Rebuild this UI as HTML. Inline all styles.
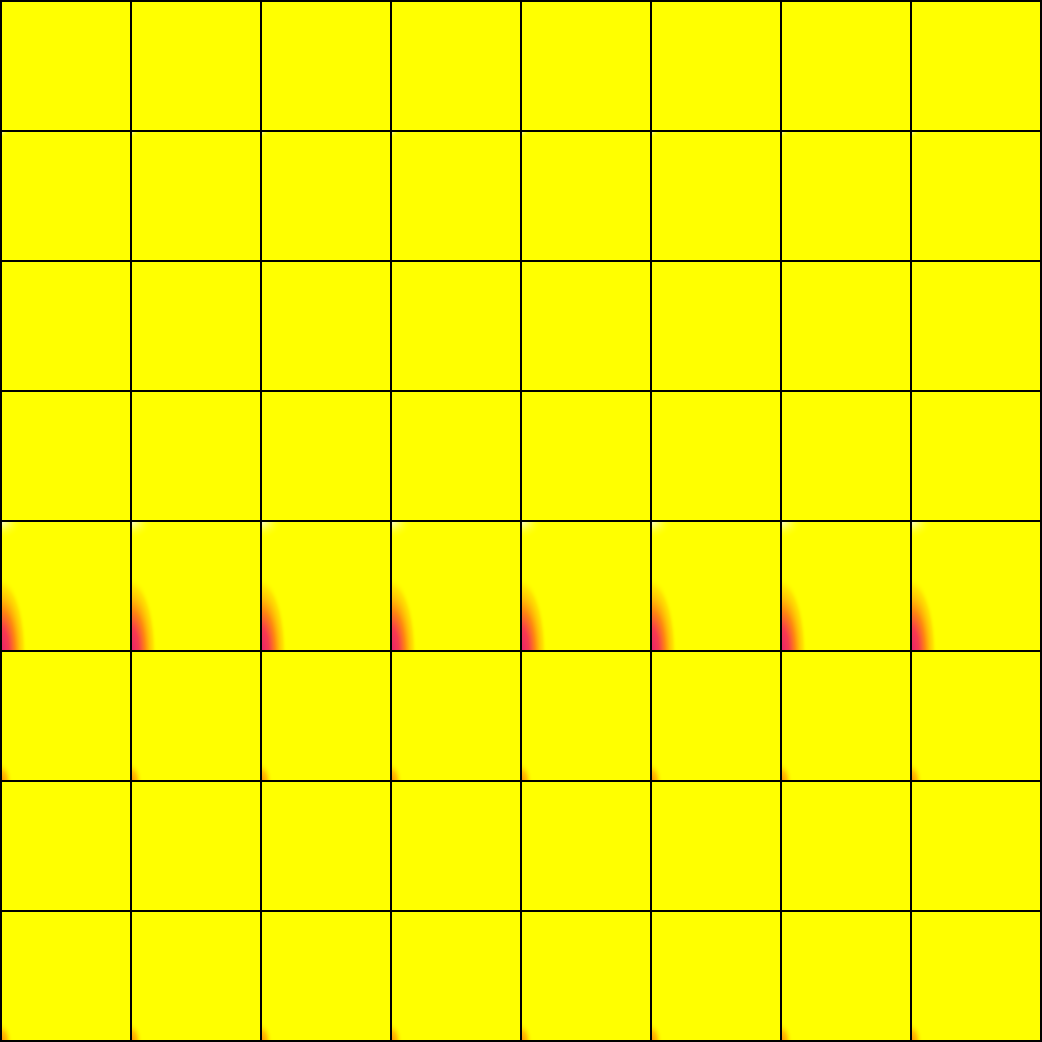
<!DOCTYPE html>
<html><head><meta charset="utf-8"><style>html,body{margin:0;padding:0;background:#ff0}svg{display:block}</style></head>
<body>
<svg id="chart" width="1042" height="1042" viewBox="0 0 1042 1042" xmlns="http://www.w3.org/2000/svg">
<defs>
<radialGradient id="hot" gradientUnits="objectBoundingBox" cx="0" cy="1" fx="0" fy="1" r="1">
<stop offset="0" stop-color="#e8206e"/>
<stop offset="0.3" stop-color="#f83a50"/>
<stop offset="0.55" stop-color="#ff8a10"/>
<stop offset="0.85" stop-color="#ffd000" stop-opacity="0.6"/>
<stop offset="1" stop-color="#ffff00" stop-opacity="0"/>
</radialGradient>
<radialGradient id="warm" gradientUnits="objectBoundingBox" cx="0" cy="1" fx="0" fy="1" r="1">
<stop offset="0" stop-color="#ff8c00"/>
<stop offset="0.5" stop-color="#ffb000" stop-opacity="0.7"/>
<stop offset="1" stop-color="#ffff00" stop-opacity="0"/>
</radialGradient>
<radialGradient id="glow" gradientUnits="objectBoundingBox" cx="0" cy="0" fx="0" fy="0" r="1">
<stop offset="0" stop-color="#ffffe0"/>
<stop offset="1" stop-color="#ffff00" stop-opacity="0"/>
</radialGradient>
</defs>
<rect x="0" y="0" width="1042" height="1042" fill="#ffff00"/>
<g id="tiles"></g>
<g id="grid"></g>
</svg>
<script>
const rowHot = [0, 0, 0, 0, 1, 0.4, 0, 0.4];
const rowGlow = [0, 0.4, 0, 0, 1, 0, 0, 0];
const cols = [0, 1, 2, 3, 4, 5, 6, 7];
const NS = 'http://www.w3.org/2000/svg';
const cell = 130, off = 1;
const X = c => off + c * cell;
const Y = r => off + r * cell;
const tiles = document.getElementById('tiles');
rowHot.forEach((h, r) => {
  cols.forEach(c => {
    const g = document.createElementNS(NS, 'g');
    
    
    if (rowGlow[r] > 0) {
      const w = 22 * rowGlow[r], hh = 18 * rowGlow[r];
      const e = document.createElementNS(NS, 'rect');
      e.setAttribute('x', X(c)); e.setAttribute('y', Y(r));
      e.setAttribute('width', w); e.setAttribute('height', hh);
      e.setAttribute('fill', 'url(#glow)');
      
      
      g.appendChild(e);
    }
    if (h > 0) {
      const w = h >= 1 ? 26 : 30 * h, hh = h >= 1 ? 75 : 50 * h;
      const e = document.createElementNS(NS, 'rect');
      e.setAttribute('x', X(c)); e.setAttribute('y', Y(r) + cell - hh);
      e.setAttribute('width', w); e.setAttribute('height', hh);
      e.setAttribute('fill', h >= 1 ? 'url(#hot)' : 'url(#warm)');
      
      
      g.appendChild(e);
    }
    tiles.appendChild(g);
  });
});
const grid = document.getElementById('grid');
for (let i = 0; i <= 8; i++) {
  const v = document.createElementNS(NS, 'line');
  v.setAttribute('x1', X(i)); v.setAttribute('x2', X(i));
  v.setAttribute('y1', 0); v.setAttribute('y2', 1042);
  v.setAttribute('stroke', '#000'); v.setAttribute('stroke-width', 2);
  
  
  grid.appendChild(v);
  const h = document.createElementNS(NS, 'line');
  h.setAttribute('y1', Y(i)); h.setAttribute('y2', Y(i));
  h.setAttribute('x1', 0); h.setAttribute('x2', 1042);
  h.setAttribute('stroke', '#000'); h.setAttribute('stroke-width', 2);
  
  
  grid.appendChild(h);
}
</script>
</body></html>
